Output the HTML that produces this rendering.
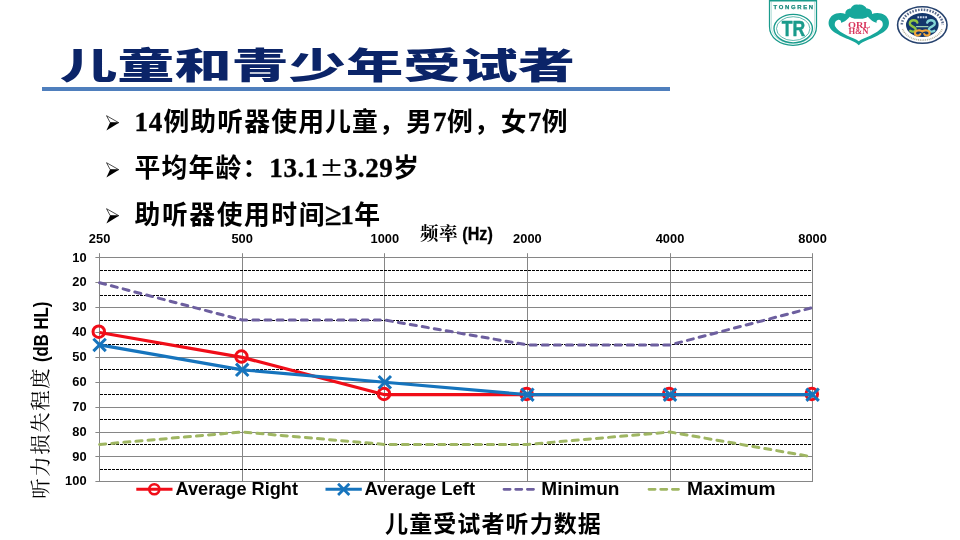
<!DOCTYPE html>
<html lang="zh-CN">
<head>
<meta charset="utf-8">
<title>儿童和青少年受试者</title>
<style>
html,body{margin:0;padding:0;background:#fff;}
body{width:960px;height:540px;overflow:hidden;position:relative;font-family:"Liberation Sans","Noto Sans CJK SC",sans-serif;color:#000;}
#slide{position:absolute;left:0;top:0;width:960px;height:540px;overflow:hidden;background:#fff;}
#title{position:absolute;left:59.5px;top:41.8px;margin:0;height:50px;line-height:50px;white-space:nowrap;
  font-family:"Liberation Sans","Noto Sans CJK SC",sans-serif;font-weight:900;font-size:36px;color:#0b2468;
  transform-origin:0 50%;transform:scaleX(1.589);letter-spacing:0;}
#rule{position:absolute;left:42px;top:87px;width:627.7px;height:3.8px;background:#4f7fbd;}
ul#bul{position:absolute;left:0;top:0;margin:0;padding:0;list-style:none;}
ul#bul li{position:absolute;left:134.6px;white-space:nowrap;height:40px;line-height:40px;
  font-family:"Liberation Serif","Noto Sans CJK SC",serif;font-weight:700;font-size:25.8px;letter-spacing:1.15px;}
ul#bul li svg{position:absolute;left:-29.1px;top:13.6px;}
ul#bul li .n{font-size:27px;letter-spacing:.55px;-webkit-text-stroke:.35px #000;}
ul#bul li .n.f{margin-right:.7px;}
.ge{font-size:31px;line-height:0;letter-spacing:-1.2px;margin-left:-1.6px;position:relative;top:1.2px;-webkit-text-stroke:.3px #000;}
.cj{font-family:"Noto Sans CJK SC",sans-serif;font-weight:500;font-size:20.5px;letter-spacing:0;position:relative;top:-1.2px;line-height:0;display:inline-block;width:25px;text-align:center;transform:scaleX(1.2);}
#cap{position:absolute;left:0;width:987px;top:507px;height:34px;line-height:34px;text-align:center;margin:0;
  font-family:"Liberation Sans","Noto Sans CJK SC",sans-serif;font-weight:700;font-size:23px;letter-spacing:1.1px;}
#chart{position:absolute;left:0;top:0;}
#logos{position:absolute;left:0;top:0;}
</style>
</head>
<body>
<div id="slide">
<svg id="logos" width="960" height="60" viewBox="0 0 960 60">
<!-- Tongren shield -->
<g fill="none" stroke="#1a9b8c">
<path d="M769.5 0V26.5C769.5 37.6 779.6 45.4 793 45.4C806.4 45.4 816.5 37.6 816.5 26.5V0" stroke-width="1.25"/>
<path d="M771.4 1.6V26.3C771.4 36.3 780.7 43.4 793 43.4C805.3 43.4 814.6 36.3 814.6 26.3V1.6" stroke-width="0.5" opacity="0.55"/>
<path d="M769 0.5H817" stroke-width="1.8"/>
<ellipse cx="793.2" cy="28.6" rx="19.2" ry="14.2" stroke-width="1.35"/>
<ellipse cx="793.2" cy="28.6" rx="16.7" ry="11.9" stroke-width="0.7"/>
</g>
<text x="773.5" y="8.9" font-family="Liberation Sans, sans-serif" font-weight="700" font-size="5.9" fill="#17897c" stroke="#17897c" stroke-width="0.25" textLength="39.6" lengthAdjust="spacing">TONGREN</text>
<text x="781.8" y="36.4" font-family="Liberation Sans, sans-serif" font-weight="700" font-size="22.5" fill="#1a9b8c" stroke="#1a9b8c" stroke-width="0.5" textLength="23.4" lengthAdjust="spacingAndGlyphs">TR</text>
<!-- ORL H&N cloud -->
<g transform="translate(822,0) scale(0.0926)">
<path fill="#17a79b" d="M390 50C430 42 470 62 482 92C515 92 545 115 540 150C580 135 640 135 680 165C720 195 735 245 715 290C695 335 640 365 580 395C520 425 450 440 397 488C345 440 275 425 215 395C155 365 100 335 80 290C60 245 75 195 115 165C155 135 215 135 252 150C247 115 280 92 310 92C322 62 350 42 390 50Z"/>
<path fill="#fff" d="M300 182C330 202 360 207 395 202C430 207 465 202 495 182C520 212 560 245 590 245C585 225 600 210 625 215C655 225 665 260 650 290C630 330 570 360 520 385C470 410 425 420 397 445C370 420 325 410 275 385C225 360 165 330 145 290C130 260 140 225 170 215C195 210 210 225 205 245C235 245 275 212 300 182Z"/>
</g>
<text x="848" y="27.7" font-family="Liberation Serif, serif" font-weight="700" font-size="8.6" fill="#d8345c" textLength="22.2" lengthAdjust="spacingAndGlyphs">ORL</text>
<text x="848.4" y="33.9" font-family="Liberation Serif, serif" font-weight="700" font-size="7.8" fill="#d8345c" textLength="20" lengthAdjust="spacingAndGlyphs">H&amp;N</text>
<!-- round seal (ring lettering is illegible in the source; drawn as texture) -->
<g>
<ellipse cx="922.3" cy="25" rx="24.7" ry="18.3" fill="#fff" stroke="#26426e" stroke-width="1.6"/>
<path d="M901.81 24.47A20.5 15.2 0 0 1 942.79 24.47" fill="none" stroke="#2f456f" stroke-width="2.5" stroke-dasharray="1.6 1.3" opacity="0.8"/>
<path d="M902.5 28.93A20.5 15.2 0 0 0 942.1 28.93" fill="none" stroke="#8e8a6a" stroke-width="1.6" stroke-dasharray="0.9 0.9" opacity="0.7"/>
<ellipse cx="922.3" cy="25" rx="16.3" ry="12.1" fill="#14376c"/>
<g fill="none" stroke-linecap="round">
<path d="M917.4 22.6C916.4 19.4 910.6 19.4 909.8 23C909.2 26 913.6 26.4 915.2 28.2C917 30.4 913.4 33 910.2 30.8" stroke="#8fc443" stroke-width="2.3"/>
<path d="M927.2 22.6C928.2 19.4 934 19.4 934.8 23C935.4 26 931 26.4 929.4 28.2C927.6 30.4 931.2 33 934.4 30.8" stroke="#86d6d6" stroke-width="2.3"/>
<path d="M916.5 26.6H928" stroke="#9fd0b0" stroke-width="1.2"/>
<path d="M922.3 31.6C920 29.4 915 30.4 915 33.2C915 36 919.6 36.2 920.4 34M922.3 31.6C924.6 29.4 929.6 30.4 929.6 33.2C929.6 36 925 36.2 924.2 34" stroke="#f0a63c" stroke-width="2.1"/>
</g>
<path d="M917.4 17.3h9.8" stroke="#c9d6ea" stroke-width="2" stroke-dasharray="1.8 0.8" fill="none"/>
</g>
</svg>

<h1 id="title">儿童和青少年受试者</h1>
<div id="rule"></div>
<ul id="bul">
<li style="top:101.5px"><svg width="14" height="16" viewBox="0 0 14 16"><path d="M0.5 0.7L12.8 7.7L4.2 7.6Z" fill="#fff" stroke="#000" stroke-width="0.7"/><path d="M4.1 7.4L13 7.7L0.4 15.4Z" fill="#000"/></svg><span class="n f">14</span>例助听器使用儿童，男<span class="n">7</span>例，女<span class="n">7</span>例</li>
<li style="top:148px"><svg width="14" height="16" viewBox="0 0 14 16"><path d="M0.5 0.7L12.8 7.7L4.2 7.6Z" fill="#fff" stroke="#000" stroke-width="0.7"/><path d="M4.1 7.4L13 7.7L0.4 15.4Z" fill="#000"/></svg>平均年龄：<span class="n">13.1</span><span class="cj">±</span><span class="n">3.29</span>岁</li>
<li style="top:194.5px;letter-spacing:1.55px"><svg width="14" height="16" viewBox="0 0 14 16"><path d="M0.5 0.7L12.8 7.7L4.2 7.6Z" fill="#fff" stroke="#000" stroke-width="0.7"/><path d="M4.1 7.4L13 7.7L0.4 15.4Z" fill="#000"/></svg>助听器使用时间<span class="ge">≥</span><span class="n">1</span>年</li>
</ul>
<svg id="chart" width="960" height="540" viewBox="0 0 960 540">
<line x1="95.4" y1="257.5" x2="813" y2="257.5" stroke="#868686" stroke-width="1"/>
<line x1="95.4" y1="282.5" x2="813" y2="282.5" stroke="#868686" stroke-width="1"/>
<line x1="95.4" y1="307.5" x2="813" y2="307.5" stroke="#868686" stroke-width="1"/>
<line x1="95.4" y1="332.5" x2="813" y2="332.5" stroke="#868686" stroke-width="1"/>
<line x1="95.4" y1="357.5" x2="813" y2="357.5" stroke="#868686" stroke-width="1"/>
<line x1="95.4" y1="382.5" x2="813" y2="382.5" stroke="#868686" stroke-width="1"/>
<line x1="95.4" y1="407.5" x2="813" y2="407.5" stroke="#868686" stroke-width="1"/>
<line x1="95.4" y1="432.5" x2="813" y2="432.5" stroke="#868686" stroke-width="1"/>
<line x1="95.4" y1="456.5" x2="813" y2="456.5" stroke="#868686" stroke-width="1"/>
<line x1="95.4" y1="481.5" x2="813" y2="481.5" stroke="#868686" stroke-width="1"/>
<line x1="99.5" y1="253.2" x2="99.5" y2="481.77" stroke="#868686" stroke-width="1"/>
<line x1="242.5" y1="253.2" x2="242.5" y2="481.77" stroke="#868686" stroke-width="1"/>
<line x1="384.5" y1="253.2" x2="384.5" y2="481.77" stroke="#868686" stroke-width="1"/>
<line x1="527.5" y1="253.2" x2="527.5" y2="481.77" stroke="#868686" stroke-width="1"/>
<line x1="670.5" y1="253.2" x2="670.5" y2="481.77" stroke="#868686" stroke-width="1"/>
<line x1="812.5" y1="253.2" x2="812.5" y2="481.77" stroke="#868686" stroke-width="1"/>
<line x1="100" y1="270.5" x2="812" y2="270.5" stroke="#000" stroke-width="1" stroke-dasharray="3 1"/>
<line x1="100" y1="295.5" x2="812" y2="295.5" stroke="#000" stroke-width="1" stroke-dasharray="3 1"/>
<line x1="100" y1="320.5" x2="812" y2="320.5" stroke="#000" stroke-width="1" stroke-dasharray="3 1"/>
<line x1="100" y1="344.5" x2="812" y2="344.5" stroke="#000" stroke-width="1" stroke-dasharray="3 1"/>
<line x1="100" y1="369.5" x2="812" y2="369.5" stroke="#000" stroke-width="1" stroke-dasharray="3 1"/>
<line x1="100" y1="394.5" x2="812" y2="394.5" stroke="#000" stroke-width="1" stroke-dasharray="3 1"/>
<line x1="100" y1="419.5" x2="812" y2="419.5" stroke="#000" stroke-width="1" stroke-dasharray="3 1"/>
<line x1="100" y1="444.5" x2="812" y2="444.5" stroke="#000" stroke-width="1" stroke-dasharray="3 1"/>
<line x1="100" y1="469.5" x2="812" y2="469.5" stroke="#000" stroke-width="1" stroke-dasharray="3 1"/>
<polyline points="99.60,282.73 242.20,320.05 384.80,320.05 527.40,344.93 670.00,344.93 812.60,307.61" fill="none" stroke="#6d5f9f" stroke-width="3" stroke-dasharray="6.1 6.05" stroke-linecap="round" stroke-linejoin="round"/>
<polyline points="99.60,444.45 242.20,432.01 384.80,444.45 527.40,444.45 670.00,432.01 812.60,456.89" fill="none" stroke="#9fb662" stroke-width="3" stroke-dasharray="6.1 6.05" stroke-linecap="round" stroke-linejoin="round"/>
<polyline points="99.60,332.49 242.20,357.37 384.80,394.69 527.40,394.69 670.00,394.69 812.60,394.69" fill="none" stroke="#f00d18" stroke-width="3.2" stroke-linejoin="round"/>
<circle cx="98.80" cy="331.69" r="5.75" fill="none" stroke="#f00d18" stroke-width="3"/>
<circle cx="241.40" cy="356.57" r="5.75" fill="none" stroke="#f00d18" stroke-width="3"/>
<circle cx="384.00" cy="393.89" r="5.75" fill="none" stroke="#f00d18" stroke-width="3"/>
<circle cx="526.60" cy="393.89" r="5.75" fill="none" stroke="#f00d18" stroke-width="3"/>
<circle cx="669.20" cy="393.89" r="5.75" fill="none" stroke="#f00d18" stroke-width="3"/>
<circle cx="811.80" cy="393.89" r="5.75" fill="none" stroke="#f00d18" stroke-width="3"/>
<polyline points="99.60,344.93 242.20,369.81 384.80,382.25 527.40,394.69 670.00,394.69 812.60,394.69" fill="none" stroke="#1674bd" stroke-width="3.2" stroke-linejoin="round"/>
<path d="M93.40 338.73L105.80 351.13M93.40 351.13L105.80 338.73" fill="none" stroke="#1674bd" stroke-width="3"/>
<path d="M236.00 363.61L248.40 376.01M236.00 376.01L248.40 363.61" fill="none" stroke="#1674bd" stroke-width="3"/>
<path d="M378.60 376.05L391.00 388.45M378.60 388.45L391.00 376.05" fill="none" stroke="#1674bd" stroke-width="3"/>
<path d="M521.20 388.49L533.60 400.89M521.20 400.89L533.60 388.49" fill="none" stroke="#1674bd" stroke-width="3"/>
<path d="M663.80 388.49L676.20 400.89M663.80 400.89L676.20 388.49" fill="none" stroke="#1674bd" stroke-width="3"/>
<path d="M806.40 388.49L818.80 400.89M806.40 400.89L818.80 388.49" fill="none" stroke="#1674bd" stroke-width="3"/>
<text x="99.60" y="243" text-anchor="middle" font-size="13.5" font-family="Liberation Sans, sans-serif" font-weight="700" textLength="21.5" lengthAdjust="spacingAndGlyphs">250</text>
<text x="242.20" y="243" text-anchor="middle" font-size="13.5" font-family="Liberation Sans, sans-serif" font-weight="700" textLength="21.5" lengthAdjust="spacingAndGlyphs">500</text>
<text x="384.80" y="243" text-anchor="middle" font-size="13.5" font-family="Liberation Sans, sans-serif" font-weight="700" textLength="28.6" lengthAdjust="spacingAndGlyphs">1000</text>
<text x="527.40" y="243" text-anchor="middle" font-size="13.5" font-family="Liberation Sans, sans-serif" font-weight="700" textLength="28.6" lengthAdjust="spacingAndGlyphs">2000</text>
<text x="670.00" y="243" text-anchor="middle" font-size="13.5" font-family="Liberation Sans, sans-serif" font-weight="700" textLength="28.6" lengthAdjust="spacingAndGlyphs">4000</text>
<text x="812.60" y="243" text-anchor="middle" font-size="13.5" font-family="Liberation Sans, sans-serif" font-weight="700" textLength="28.6" lengthAdjust="spacingAndGlyphs">8000</text>
<text x="86.6" y="261.55" text-anchor="end" font-size="13.5" font-family="Liberation Sans, sans-serif" font-weight="700" textLength="14.3" lengthAdjust="spacingAndGlyphs">10</text>
<text x="86.6" y="286.43" text-anchor="end" font-size="13.5" font-family="Liberation Sans, sans-serif" font-weight="700" textLength="14.3" lengthAdjust="spacingAndGlyphs">20</text>
<text x="86.6" y="311.31" text-anchor="end" font-size="13.5" font-family="Liberation Sans, sans-serif" font-weight="700" textLength="14.3" lengthAdjust="spacingAndGlyphs">30</text>
<text x="86.6" y="336.19" text-anchor="end" font-size="13.5" font-family="Liberation Sans, sans-serif" font-weight="700" textLength="14.3" lengthAdjust="spacingAndGlyphs">40</text>
<text x="86.6" y="361.07" text-anchor="end" font-size="13.5" font-family="Liberation Sans, sans-serif" font-weight="700" textLength="14.3" lengthAdjust="spacingAndGlyphs">50</text>
<text x="86.6" y="385.95" text-anchor="end" font-size="13.5" font-family="Liberation Sans, sans-serif" font-weight="700" textLength="14.3" lengthAdjust="spacingAndGlyphs">60</text>
<text x="86.6" y="410.83" text-anchor="end" font-size="13.5" font-family="Liberation Sans, sans-serif" font-weight="700" textLength="14.3" lengthAdjust="spacingAndGlyphs">70</text>
<text x="86.6" y="435.71" text-anchor="end" font-size="13.5" font-family="Liberation Sans, sans-serif" font-weight="700" textLength="14.3" lengthAdjust="spacingAndGlyphs">80</text>
<text x="86.6" y="460.59" text-anchor="end" font-size="13.5" font-family="Liberation Sans, sans-serif" font-weight="700" textLength="14.3" lengthAdjust="spacingAndGlyphs">90</text>
<text x="86.6" y="485.47" text-anchor="end" font-size="13.5" font-family="Liberation Sans, sans-serif" font-weight="700" textLength="21.5" lengthAdjust="spacingAndGlyphs">100</text>
<text x="420" y="240.3" font-size="18.6" letter-spacing="0.5" font-family="Liberation Serif, Noto Serif CJK SC, serif" font-weight="700">频率</text>
<text x="462.3" y="240.1" font-size="17.5" font-family="Liberation Sans, sans-serif" font-weight="700" stroke="#000" stroke-width="0.3" textLength="30.5" lengthAdjust="spacingAndGlyphs">(Hz)</text>
<g transform="translate(48,498.8) rotate(-90)"><text x="0" y="0" font-size="20.4" letter-spacing="1.6" font-family="Liberation Serif, Noto Serif CJK SC, serif" font-weight="400">听力损失程度</text><text x="136.7" y="0" font-size="19.5" font-family="Liberation Sans, sans-serif" font-weight="700" textLength="60.5" lengthAdjust="spacingAndGlyphs">(dB HL)</text></g>
<line x1="136.3" y1="489.3" x2="172.5" y2="489.3" stroke="#f00d18" stroke-width="3"/>
<circle cx="154.3" cy="489.3" r="5" fill="none" stroke="#f00d18" stroke-width="2.6"/>
<text x="175.5" y="494.8" font-size="18.6" font-family="Liberation Sans, sans-serif" font-weight="700" textLength="122.5" lengthAdjust="spacingAndGlyphs">Average Right</text>
<line x1="325.5" y1="489.3" x2="361.8" y2="489.3" stroke="#1674bd" stroke-width="3"/>
<path d="M338.10 483.70L349.30 494.90M338.10 494.90L349.30 483.70" fill="none" stroke="#1674bd" stroke-width="2.8"/>
<text x="364.5" y="494.8" font-size="18.6" font-family="Liberation Sans, sans-serif" font-weight="700" textLength="110.5" lengthAdjust="spacingAndGlyphs">Average Left</text>
<line x1="504" y1="489.3" x2="534" y2="489.3" stroke="#6d5f9f" stroke-width="2.8" stroke-dasharray="6.1 5.6" stroke-linecap="round"/>
<text x="541.3" y="494.8" font-size="18.6" font-family="Liberation Sans, sans-serif" font-weight="700" textLength="78.2" lengthAdjust="spacingAndGlyphs">Minimun</text>
<line x1="649" y1="489.3" x2="679" y2="489.3" stroke="#9fb662" stroke-width="2.8" stroke-dasharray="6.1 5.6" stroke-linecap="round"/>
<text x="687" y="494.8" font-size="18.6" font-family="Liberation Sans, sans-serif" font-weight="700" textLength="88.5" lengthAdjust="spacingAndGlyphs">Maximum</text>
</svg>
<p id="cap">儿童受试者听力数据</p>
</div>
</body>
</html>
